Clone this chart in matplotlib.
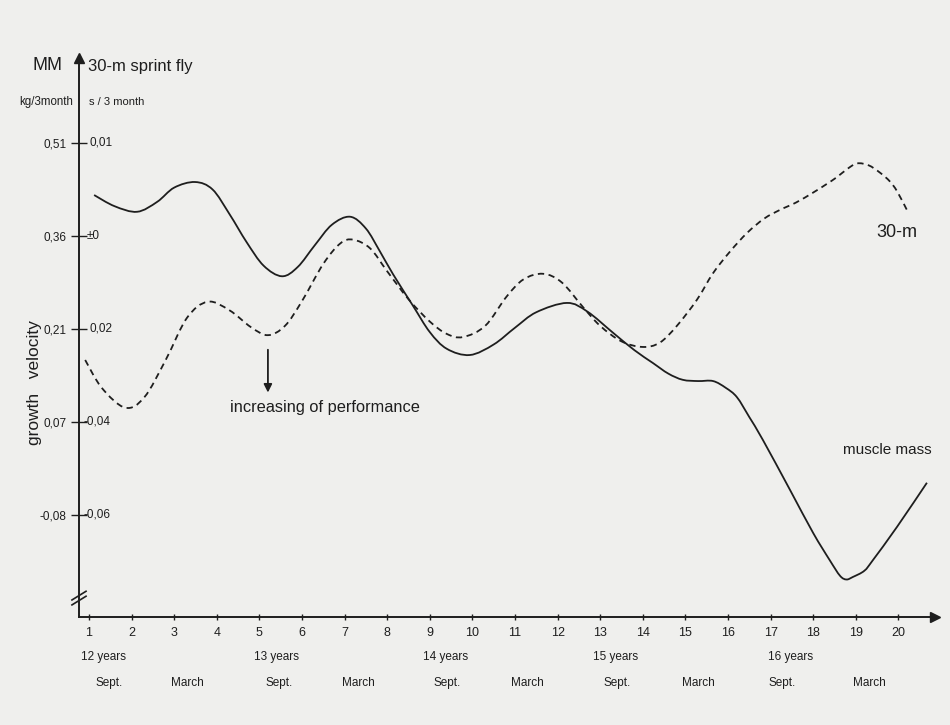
#!/usr/bin/python
# -*- coding: utf-8 -*-
"""Growth velocity of muscle mass vs. 30-m sprint fly performance."""

import matplotlib.pyplot as plt
from matplotlib.path import Path
from matplotlib.patches import PathPatch

plt.rcParams["font.family"] = ["Liberation Sans", "DejaVu Sans"]

# Data (x in quarter-year steps, y in kg / 3 month on the MM scale)
quarters = list(range(1, 21))

mm_x = [1.12, 1.6, 2.13, 2.6, 3.0, 3.49, 3.9, 4.3, 4.7, 5.1, 5.53, 5.9, 6.3, 6.7,
        7.13, 7.5, 7.83, 8.14, 8.6, 9.0, 9.4, 9.94, 10.5, 11.0, 11.5, 12.22, 12.7,
        13.3, 13.8, 14.24, 14.6, 14.94, 15.3, 15.65, 15.95, 16.21, 16.5, 16.82,
        17.46, 18.0, 18.39, 18.63, 18.78, 18.93, 19.2, 19.4, 19.97, 20.67]
mm_y = [0.426, 0.408, 0.399, 0.415, 0.438, 0.447, 0.435, 0.395, 0.350, 0.312, 0.295,
        0.310, 0.345, 0.378, 0.391, 0.372, 0.335, 0.298, 0.248, 0.205, 0.178, 0.168,
        0.185, 0.212, 0.237, 0.252, 0.238, 0.204, 0.176, 0.155, 0.138, 0.128, 0.126,
        0.126, 0.115, 0.100, 0.068, 0.031, -0.050, -0.119, -0.163, -0.188, -0.194,
        -0.190, -0.180, -0.163, -0.109, -0.038]

sprint_x = [0.91, 1.3, 1.85, 2.3, 2.8, 3.3, 3.79, 4.3, 4.8, 5.2, 5.6, 6.0, 6.5, 6.9,
            7.2, 7.6, 8.0, 8.5, 9.0, 9.4, 9.78, 10.3, 10.8, 11.2, 11.66, 12.1, 12.6,
            13.0, 13.5, 14.0, 14.4, 14.8, 15.27, 15.65, 16.05, 16.45, 16.85, 17.22,
            17.6, 18.0, 18.3, 18.56, 18.8, 19.03, 19.3, 19.57, 19.8, 19.97, 20.2]
sprint_y = [0.160, 0.115, 0.083, 0.100, 0.160, 0.228, 0.254, 0.240, 0.213, 0.200,
            0.215, 0.255, 0.315, 0.348, 0.354, 0.340, 0.303, 0.258, 0.222, 0.202,
            0.197, 0.215, 0.262, 0.290, 0.299, 0.285, 0.245, 0.215, 0.190, 0.181,
            0.188, 0.215, 0.257, 0.300, 0.335, 0.365, 0.388, 0.402, 0.414, 0.430,
            0.443, 0.455, 0.468, 0.477, 0.474, 0.462, 0.448, 0.432, 0.402]

ytick_pos = [0.51, 0.36, 0.21, 0.06, -0.09]
ytick_mm = ["0,51", "0,36", "0,21", "0,07", "-0,08"]
ytick_sprint = ["0,01", "±0", "0,02", "-0,04", "-0,06"]

age_labels = ["12 years", "13 years", "14 years", "15 years", "16 years"]
age_pos = [1.35, 5.41, 9.38, 13.37, 17.46]
season_labels = ["Sept.", "March"] * 5
season_pos = [1.47, 3.32, 5.47, 7.33, 9.4, 11.28, 13.39, 15.3, 17.27, 19.33]


def smooth_path(xs, ys):
    """Path through the points, drawn as Catmull-Rom style Bezier segments."""
    pts = list(zip(xs, ys))
    n = len(pts)
    verts = [pts[0]]
    codes = [Path.MOVETO]
    for i in range(n - 1):
        p0 = pts[max(i - 1, 0)]
        p1 = pts[i]
        p2 = pts[i + 1]
        p3 = pts[min(i + 2, n - 1)]
        c1 = (p1[0] + (p2[0] - p0[0]) / 6, p1[1] + (p2[1] - p0[1]) / 6)
        c2 = (p2[0] - (p3[0] - p1[0]) / 6, p2[1] - (p3[1] - p1[1]) / 6)
        verts += [c1, c2, p2]
        codes += [Path.CURVE4] * 3
    return Path(verts, codes)


# Figure
bg = "#efefed"
ink = "#1e1e1e"
W, H = 950, 725
fig = plt.figure(figsize=(W / 100, H / 100), dpi=100, facecolor=bg)
ax = fig.add_axes([79 / W, (H - 617) / H, (935 - 79) / W, (617 - 58) / H])
ax.set_facecolor(bg)
ax.set_xlim(0.765, 20.86)
ax.set_ylim(-0.2545, 0.647)

for s in ["top", "right"]:
    ax.spines[s].set_visible(False)
for s in ["left", "bottom"]:
    ax.spines[s].set_linewidth(1.4)
    ax.spines[s].set_color(ink)

# axis arrow heads
ax.plot(0, 1, "^", color=ink, markersize=7, transform=ax.transAxes, clip_on=False)
ax.plot(1, 0, ">", color=ink, markersize=7, transform=ax.transAxes, clip_on=False)

# axis break mark
for dy in [-0.004, 0.004]:
    ax.plot([0.60, 0.93], [-0.231 + dy, -0.217 + dy], color=ink, lw=1.2, clip_on=False)

ax.set_xticks(quarters)
ax.set_xticklabels([str(q) for q in quarters], fontsize=9)
ax.tick_params(axis="x", direction="inout", length=5, width=1, colors=ink, pad=5)
ax.set_yticks(ytick_pos)
ax.set_yticklabels(ytick_mm, fontsize=8.5)
ax.tick_params(axis="y", direction="inout", length=12, width=1, colors=ink, pad=3)

for pos, lab in zip(ytick_pos, ytick_sprint):
    off = {"-": 5, "±": 8}.get(lab[0], 11)
    ax.annotate(lab, xy=(0, pos), xycoords=("axes fraction", "data"),
                xytext=(off, 0), textcoords="offset pixels", ha="left", va="center",
                fontsize=8.5, color=ink)

for pos, lab in zip(age_pos, age_labels):
    ax.annotate(lab, xy=(pos, 0), xycoords=("data", "axes fraction"),
                xytext=(0, -40), textcoords="offset pixels", ha="center", va="center",
                fontsize=8.5, color=ink)
for pos, lab in zip(season_pos, season_labels):
    ax.annotate(lab, xy=(pos, 0), xycoords=("data", "axes fraction"),
                xytext=(0, -66), textcoords="offset pixels", ha="center", va="center",
                fontsize=8.5, color=ink)

# curves
ax.add_patch(PathPatch(smooth_path(mm_x, mm_y), fill=False, edgecolor=ink, lw=1.3,
                       clip_on=False))
ax.add_patch(PathPatch(smooth_path(sprint_x, sprint_y), fill=False, edgecolor=ink,
                       lw=1.3, linestyle=(0, (3.5, 2.5)), clip_on=False))

ax.text(19.97, 0.365, "30-m", ha="center", va="center", fontsize=13, color=ink)
ax.text(19.73, 0.015, "muscle mass", ha="center", va="center", fontsize=11, color=ink)

ax.annotate("", xy=(5.2, 0.103), xytext=(5.2, 0.181),
            arrowprops=dict(arrowstyle="-|>", color=ink, lw=1.3, mutation_scale=12))
ax.text(6.54, 0.084, "increasing of performance", ha="center", va="center",
        fontsize=11.8, color=ink)

# header texts
fig.text(48 / W, 1 - 66 / H, "MM", ha="center", va="center", fontsize=13, color=ink)
fig.text(88 / W, 1 - 66 / H, "30-m sprint fly", ha="left", va="center", fontsize=12,
         color=ink)
fig.text(73 / W, 1 - 102 / H, "kg/3month", ha="right", va="center", fontsize=8.3,
         color=ink)
fig.text(89 / W, 1 - 102 / H, "s / 3 month", ha="left", va="center", fontsize=8,
         color=ink)
fig.text(35 / W, 1 - 383 / H, "growth   velocity", ha="center", va="center",
         rotation=90, fontsize=12.5, color=ink)

fig.savefig("out.png", dpi=100, facecolor=bg)
